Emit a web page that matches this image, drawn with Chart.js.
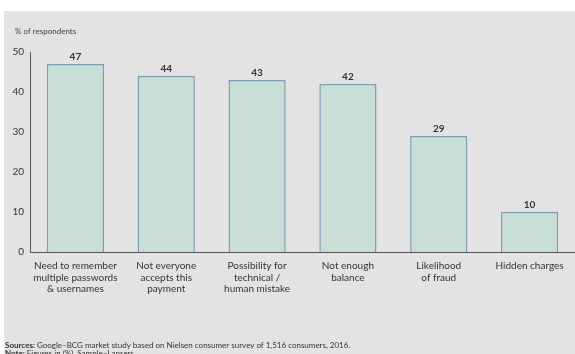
<!DOCTYPE html>
<html>
<head>
<meta charset="utf-8">
<script src="https://cdn.jsdelivr.net/npm/chart.js@4"></script>
<style>
  html, body { margin: 0; padding: 0; background: #fff; }
  #wrap { width: 575px; height: 354px; position: relative; }
</style>
</head>
<body>
<div id="wrap"><canvas id="barChart"></canvas></div>
<script>
// données
const categories = [
    ['Need to remember', 'multiple passwords', '& usernames'],
    ['Not everyone', 'accepts this', 'payment'],
    ['Possibility for', 'technical /', 'human mistake'],
    ['Not enough', 'balance'],
    ['Likelihood', 'of fraud'],
    ['Hidden charges']
];
const values = [47, 44, 43, 42, 29, 10];
const yTicks = [0, 10, 20, 30, 40, 50];

const FONT = 'Lato, "Open Sans", sans-serif';

// fond gris + textes (titre, étiquettes, sources)
const decorPlugin = {
    id: 'decor',
    beforeDraw(chart) {
        const c = chart.ctx;
        c.save();
        c.fillStyle = '#ffffff';
        c.fillRect(0, 0, chart.width, chart.height);
        c.fillStyle = '#e3e3e3';
        c.fillRect(4, 11, chart.width - 4, chart.height - 11);
        c.restore();
    },
    afterDraw(chart) {
        const c = chart.ctx;
        c.save();
        // titre de l'axe
        c.fillStyle = '#444';
        c.font = '8px ' + FONT;
        c.textBaseline = 'middle';
        c.textAlign = 'left';
        c.fillText('% of respondents', 15, 31);

        // valeurs au-dessus des barres
        const meta = chart.getDatasetMeta(0);
        c.fillStyle = '#333';
        c.font = 'bold 10px ' + FONT;
        c.textAlign = 'center';
        c.textBaseline = 'bottom';
        meta.data.forEach((bar, i) => {
            c.fillText(String(values[i]), bar.x, bar.y - 2);
        });

        // sources
        c.textAlign = 'left';
        c.textBaseline = 'middle';
        c.fillStyle = '#333';
        c.font = 'bold 8px ' + FONT;
        let w = c.measureText('Sources: ').width;
        c.fillText('Sources:', 5, 345);
        c.font = '8px ' + FONT;
        c.fillText('Google–BCG market study based on Nielsen consumer survey of 1,516 consumers, 2016.', 5 + w, 345);
        c.font = 'bold 8px ' + FONT;
        w = c.measureText('Note: ').width;
        c.fillText('Note:', 5, 353);
        c.font = '8px ' + FONT;
        c.fillText('Figures in (%), Sample–Lapsers', 5 + w, 353);
        c.restore();
    }
};

const ctx = document.getElementById('barChart').getContext('2d');
new Chart(ctx, {
    type: 'bar',
    data: {
        labels: categories,
        datasets: [{
            data: values,
            backgroundColor: '#c8ded6',
            borderColor: '#7d9db6',
            borderWidth: 1.5,
            borderSkipped: 'bottom',
            barPercentage: 0.63,
            categoryPercentage: 1
        }]
    },
    options: {
        responsive: true,
        maintainAspectRatio: false,
        animation: false,
        layout: { padding: { top: 52, left: 0, right: 0, bottom: 0 } },
        plugins: {
            legend: { display: false },
            tooltip: { enabled: false }
        },
        scales: {
            x: {
                afterFit(axis) { axis.height = 102; },
                grid: { display: false, drawTicks: false },
                border: { display: true, color: '#555', width: 1 },
                ticks: {
                    color: '#333',
                    padding: 8,
                    maxRotation: 0,
                    minRotation: 0,
                    autoSkip: false,
                    font: { family: FONT, size: 10, lineHeight: 1.17 }
                }
            },
            y: {
                min: 0,
                max: 50,
                afterFit(axis) { axis.width = 30; },
                afterBuildTicks(axis) { axis.ticks = yTicks.map(v => ({ value: v })); },
                grid: { display: false, drawTicks: false },
                border: { display: true, color: '#555', width: 1 },
                ticks: {
                    color: '#333',
                    padding: 6,
                    font: { family: FONT, size: 10 }
                }
            }
        }
    },
    plugins: [decorPlugin]
});
</script>
</body>
</html>
